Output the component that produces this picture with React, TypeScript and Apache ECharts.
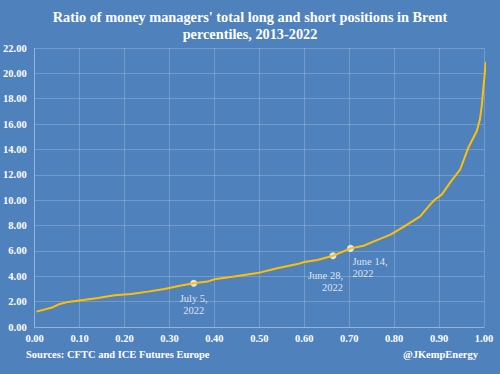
import React, { useEffect, useRef } from "react";
import * as echarts from "echarts";

const percentiles = [0.004, 0.041, 0.056, 0.075, 0.112, 0.141, 0.178, 0.215, 0.252, 0.289, 0.326, 0.354, 0.385, 0.4, 0.444, 0.496, 0.54, 0.585, 0.6, 0.629, 0.664, 0.703, 0.732, 0.755, 0.792, 0.821, 0.858, 0.88, 0.891, 0.906, 0.925, 0.947, 0.965, 0.984, 0.991, 0.995, 0.999, 1.004];
const ratios = [1.21, 1.56, 1.82, 1.98, 2.14, 2.29, 2.5, 2.61, 2.79, 3.0, 3.27, 3.45, 3.58, 3.77, 3.98, 4.25, 4.64, 4.96, 5.12, 5.28, 5.62, 6.2, 6.41, 6.75, 7.28, 7.89, 8.73, 9.65, 10.05, 10.44, 11.4, 12.42, 14.13, 15.45, 16.38, 17.43, 19.0, 20.9];

const markerDates = ["July 5,\n2022", "June 28,\n2022", "June 14,\n2022"];
const markerX = [0.354, 0.664, 0.703];
const markerY = [3.45, 5.62, 6.2];

const titleText = "Ratio of money managers' total long and short positions in Brent\npercentiles, 2013-2022";
const sourceText = "Sources: CFTC and ICE Futures Europe";
const handleText = "@JKempEnergy";

const FONT = "'Liberation Serif', 'DejaVu Serif', serif";

export default function App() {
  const ref = useRef<HTMLDivElement>(null);
  useEffect(() => {
    if (!ref.current) return;
    const chart = echarts.init(ref.current, undefined, { renderer: "svg" });
    const labelCfg = [
      { position: [3.5, 12.5], align: "center" },
      { position: [13.5, 17.5], align: "right" },
      { position: [5.5, 10.5], align: "left" },
    ];
    chart.setOption({
      animation: false,
      backgroundColor: "#4F81BD",
      title: {
        text: titleText,
        left: "center",
        top: 3,
        textStyle: {
          color: "#ffffff",
          fontFamily: FONT,
          fontWeight: "bold",
          fontSize: 14.3,
          lineHeight: 17,
        },
      },
      grid: { left: 33, right: 16, top: 48, bottom: 47 },
      xAxis: {
        type: "value",
        min: 0,
        max: 1,
        interval: 0.1,
        axisLine: { show: true, lineStyle: { color: "rgba(255,255,255,0.25)" } },
        axisTick: { show: false },
        splitLine: { show: true, lineStyle: { color: "rgba(255,255,255,0.2)" } },
        axisLabel: {
          color: "#ffffff",
          fontFamily: FONT,
          fontWeight: "bold",
          fontSize: 10.5,
          margin: 6,
          formatter: (v: number) => v.toFixed(2),
        },
      },
      yAxis: {
        type: "value",
        min: 0,
        max: 22,
        interval: 2,
        axisLine: { show: true, lineStyle: { color: "rgba(255,255,255,0.25)" } },
        axisTick: { show: false },
        splitLine: { show: true, lineStyle: { color: "rgba(255,255,255,0.2)" } },
        axisLabel: {
          color: "#ffffff",
          fontFamily: FONT,
          fontWeight: "bold",
          fontSize: 10.5,
          margin: 8,
          formatter: (v: number) => v.toFixed(2),
        },
      },
      series: [
        {
          type: "line",
          data: percentiles.map((x, i) => [x, ratios[i]]),
          showSymbol: false,
          clip: false,
          lineStyle: { color: "#FFC000", width: 2 },
          itemStyle: { color: "#FFC000" },
        },
        {
          type: "scatter",
          symbolSize: 7,
          itemStyle: { color: "#ffffff" },
          data: markerX.map((x, i) => ({
            value: [x, markerY[i]],
            label: {
              show: true,
              formatter: markerDates[i],
              position: labelCfg[i].position,
              align: labelCfg[i].align,
              verticalAlign: "top",
              color: "#ffffff",
              fontFamily: FONT,
              fontSize: 10.5,
              lineHeight: 12,
            },
          })),
        },
      ],
      graphic: [
        {
          type: "text",
          left: 26,
          top: 349,
          style: {
            text: sourceText,
            fill: "#ffffff",
            font: `bold 10.5px ${FONT}`,
          },
        },
        {
          type: "text",
          right: 22,
          top: 349,
          style: {
            text: handleText,
            fill: "#ffffff",
            font: `bold 10.5px ${FONT}`,
          },
        },
      ],
    });
    return () => chart.dispose();
  }, []);
  return <div ref={ref} style={{ width: 500, height: 374, position: "absolute", left: 0, top: 0 }} />;
}
